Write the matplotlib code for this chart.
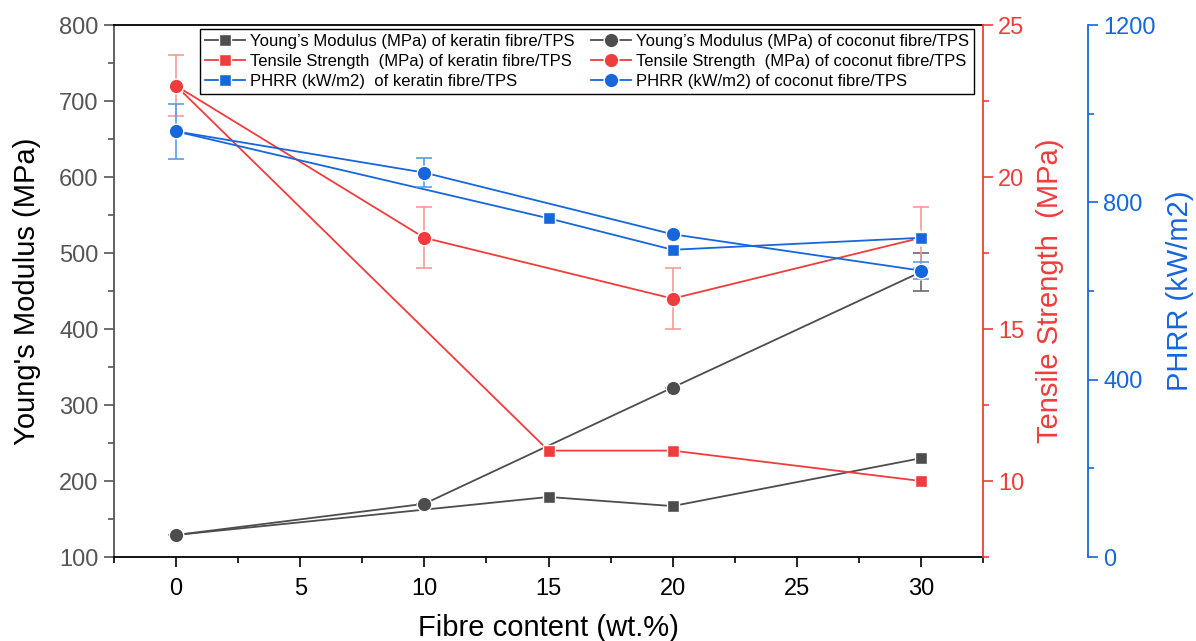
import matplotlib
matplotlib.use("Agg")
import matplotlib.pyplot as plt
from matplotlib.ticker import MultipleLocator

plt.rcParams['font.family'] = ['Liberation Sans', 'DejaVu Sans']

# ---- data ----
x_ker = [0, 15, 20, 30]
x_coc = [0, 10, 20, 30]

ym_ker = [129, 179, 167, 230]
ym_coc = [129, 170, 323, 475]
ym_coc_err = [0, 0, 0, 25]

ts_ker = [23, 11, 11, 10]
ts_coc = [23, 18, 16, 18]
ts_coc_err = [1, 1, 1, 1]

phrr_ker = [960, 764, 693, 720]
phrr_coc = [960, 867, 728, 646]
phrr_coc_err = [62, 32, 0, 20]

labels = [
    "Young\u2019s Modulus (MPa) of keratin fibre/TPS",
    "Young\u2019s Modulus (MPa) of coconut fibre/TPS",
    "Tensile Strength  (MPa) of keratin fibre/TPS",
    "Tensile Strength  (MPa) of coconut fibre/TPS",
    "PHRR (kW/m2)  of keratin fibre/TPS",
    "PHRR (kW/m2) of coconut fibre/TPS",
]

GREY = '#4d4d4d'
RED = '#f03c3c'
BLUE = '#1666dc'
GREY_E = '#6a6a6a'
RED_E = '#f59a9a'
BLUE_E = '#5b9ce8'

W, H = 1196, 641
fig = plt.figure(figsize=(W / 100, H / 100), dpi=100)
L, R, T, B = 114, 983, 25, 557
ax = fig.add_axes([L / W, 1 - B / H, (R - L) / W, (B - T) / H])
ax2 = ax.twinx()
ax3 = ax.twinx()
ax3.spines['right'].set_position(('outward', 105 * 72 / 100))

lw = 1.3
sq = dict(marker='s', ms=8.5, mew=1.0, mec='white')
ci = dict(marker='o', ms=10.5, mew=1.0, mec='white')

# Young's modulus
h1, = ax.plot(x_ker, ym_ker, color=GREY, lw=lw, mfc=GREY, **sq)
ax.errorbar(x_coc, ym_coc, yerr=ym_coc_err, fmt='none', ecolor=GREY_E,
            elinewidth=1.2, capsize=6, capthick=1.2)
h2, = ax.plot(x_coc, ym_coc, color=GREY, lw=lw, mfc=GREY, **ci)

# Tensile strength
h3, = ax2.plot(x_ker, ts_ker, color=RED, lw=lw, mfc=RED, **sq)
ax2.errorbar(x_coc, ts_coc, yerr=ts_coc_err, fmt='none', ecolor=RED_E,
             elinewidth=1.2, capsize=6, capthick=1.2)
h4, = ax2.plot(x_coc, ts_coc, color=RED, lw=lw, mfc=RED, **ci)

# PHRR
h5, = ax3.plot(x_ker, phrr_ker, color=BLUE, lw=lw, mfc=BLUE, **sq)
ax3.errorbar(x_coc, phrr_coc, yerr=phrr_coc_err, fmt='none', ecolor=BLUE_E,
             elinewidth=1.2, capsize=6, capthick=1.2)
h6, = ax3.plot(x_coc, phrr_coc, color=BLUE, lw=lw, mfc=BLUE, **ci)

# limits and ticks
ax.set_xlim(-2.5, 32.5)
ax.set_ylim(100, 800)
ax2.set_ylim(7.5, 25)
ax3.set_ylim(0, 1200)

ax.xaxis.set_major_locator(MultipleLocator(5))
ax.xaxis.set_minor_locator(MultipleLocator(2.5))
ax.yaxis.set_major_locator(MultipleLocator(100))
ax.yaxis.set_minor_locator(MultipleLocator(50))
ax2.yaxis.set_major_locator(MultipleLocator(5))
ax2.yaxis.set_minor_locator(MultipleLocator(2.5))
ax3.yaxis.set_major_locator(MultipleLocator(400))
ax3.yaxis.set_minor_locator(MultipleLocator(200))

TS = 17
ax.tick_params(axis='x', which='major', direction='out', length=7, width=1.2,
               labelsize=TS, labelcolor='black', color='black', pad=8)
ax.tick_params(axis='x', which='minor', direction='out', length=4, width=1.2, color='black')
ax.tick_params(axis='y', which='major', direction='out', length=7, width=1.2,
               labelsize=TS, labelcolor='#555555', color='#555555', pad=4)
ax.tick_params(axis='y', which='minor', direction='out', length=4, width=1.2, color='#555555')
ax2.tick_params(axis='y', which='major', direction='out', length=7, width=1.2,
                labelsize=TS, labelcolor=RED, color=RED, pad=4)
ax2.tick_params(axis='y', which='minor', direction='out', length=4, width=1.2, color=RED)
ax3.tick_params(axis='y', which='major', direction='out', length=7, width=1.2,
                labelsize=TS, labelcolor=BLUE, color=BLUE, pad=4)
ax3.tick_params(axis='y', which='minor', direction='out', length=4, width=1.2, color=BLUE)

for a in (ax, ax2, ax3):
    for s in a.spines.values():
        s.set_linewidth(1.3)
ax.spines['left'].set_color('#555555')
ax.spines['bottom'].set_color('black')
ax.spines['top'].set_color('black')
ax2.spines['right'].set_color(RED)
ax3.spines['right'].set_color(BLUE)
for a in (ax2, ax3):
    a.spines['top'].set_visible(False)
    a.spines['left'].set_visible(False)
    a.spines['bottom'].set_visible(False)
ax.spines['right'].set_visible(False)

# axis labels
LS = 21
ax.set_xlabel("Fibre content (wt.%)", fontsize=LS, color='black')
ax.xaxis.set_label_coords(0.5, (B - 628) / (B - T), transform=ax.transAxes)
ax.xaxis.label.set_va('center')
ax.set_ylabel("Young's Modulus (MPa)", fontsize=LS, color='black', va='center')
ax.yaxis.set_label_coords((27 - L) / (R - L), 0.5)
ax2.set_ylabel("Tensile Strength  (MPa)", fontsize=LS, color=RED, va='center')
ax2.yaxis.set_label_coords((1050 - L) / (R - L), 0.5)
ax3.set_ylabel("PHRR (kW/m2)", fontsize=LS, color=BLUE, va='center')
ax3.yaxis.set_label_coords((1180 - L) / (R - L), 0.5)

# legend (row-wise order: keratin | coconut)
handles = [h1, h3, h5, h2, h4, h6]
leg_labels = [labels[0], labels[2], labels[4], labels[1], labels[3], labels[5]]
leg = ax3.legend(handles, leg_labels, ncol=2, loc='upper left',
                 bbox_to_anchor=(200 / W, 1 - 29 / H), bbox_transform=fig.transFigure,
                 fontsize=12.0, frameon=True, fancybox=False, framealpha=1,
                 edgecolor='black', borderpad=0.3, labelspacing=0.3,
                 handlelength=2.4, handletextpad=0.3, columnspacing=1.0,
                 borderaxespad=0)
leg.get_frame().set_linewidth(1.0)

fig.savefig("out.png", dpi=100)
